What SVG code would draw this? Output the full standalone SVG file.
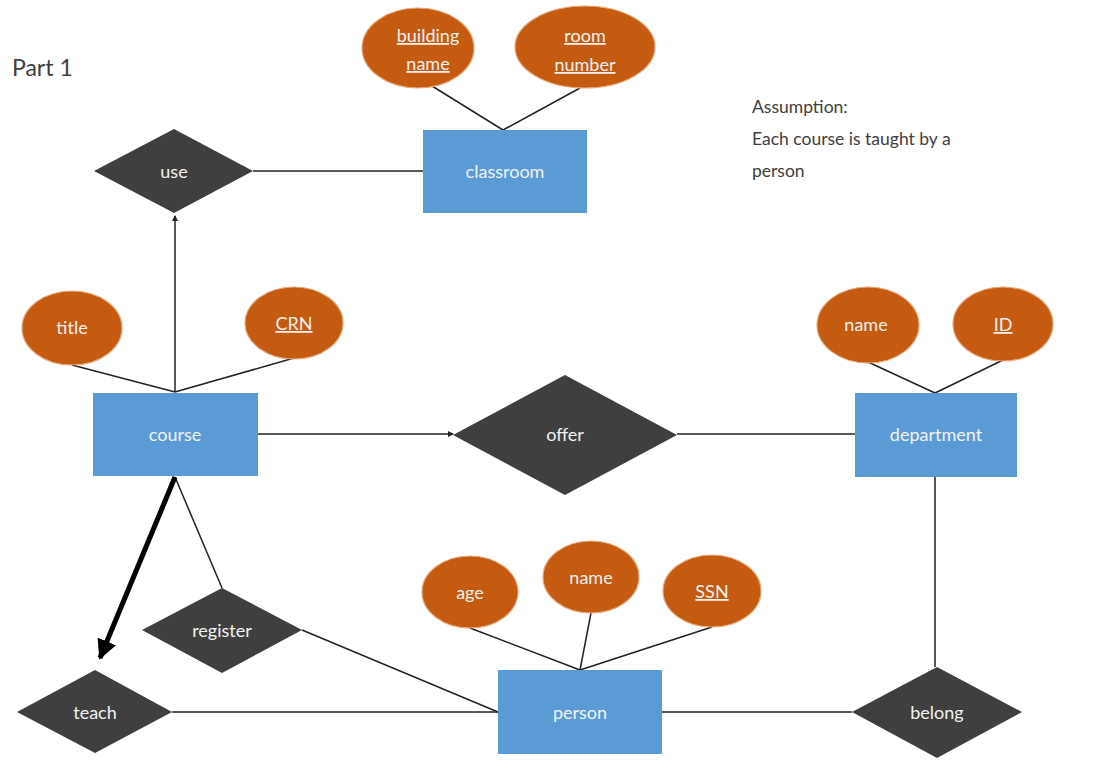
<svg xmlns="http://www.w3.org/2000/svg" width="1102" height="770" viewBox="0 0 1102 770">
<style>
.ent{fill:#5B9BD5;}
.attr{fill:#C55A11;stroke:#E9A77A;stroke-width:1.2;}
.rel{fill:#3F3F3F;}
.lbl{font-family:Lato,"Liberation Sans",sans-serif;font-size:18px;fill:#F2F2F2;text-anchor:middle;}
.key{text-decoration:underline;}
.plain{font-family:Lato,"Liberation Sans",sans-serif;fill:#404040;}
.ln{stroke:#222;stroke-width:1.5;fill:none;}
</style>
<defs>
<marker id="sm" viewBox="0 0 6 6" refX="5" refY="3" markerWidth="4" markerHeight="4" orient="auto" markerUnits="strokeWidth">
<path d="M0,0 L6,3 L0,6 z" fill="#222"/>
</marker>
<marker id="big" viewBox="0 0 10 10" refX="9" refY="5" markerWidth="4" markerHeight="4" orient="auto" markerUnits="strokeWidth">
<path d="M0,0 L10,5 L0,10 z" fill="#000"/>
</marker>
</defs>
<rect width="1102" height="770" fill="#fff"/>
<text class="plain" x="12" y="76" font-size="23">Part 1</text>
<g id="assumption" class="plain" font-size="17.5">
<text x="752" y="113">Assumption:</text>
<text x="752" y="145">Each course is taught by a</text>
<text x="752" y="177">person</text>
</g>
<g id="connectors">
<line class="ln" x1="432" y1="86" x2="503" y2="130"/>
<line class="ln" x1="580" y1="88" x2="503" y2="130"/>
<line class="ln" x1="253" y1="171" x2="423" y2="171"/>
<line class="ln" x1="175" y1="392" x2="175" y2="216" marker-end="url(#sm)"/>
<line class="ln" x1="72" y1="365" x2="175" y2="392"/>
<line class="ln" x1="294" y1="358" x2="175" y2="392"/>
<line class="ln" x1="258" y1="434" x2="453" y2="434" marker-end="url(#sm)"/>
<line class="ln" x1="677" y1="434" x2="855" y2="434"/>
<line class="ln" x1="868" y1="362" x2="935" y2="393"/>
<line class="ln" x1="1003" y1="360" x2="935" y2="393"/>
<line class="ln" x1="935" y1="477" x2="935" y2="667"/>
<line class="ln" x1="662" y1="712" x2="852" y2="712"/>
<line class="ln" x1="172" y1="712" x2="498" y2="712"/>
<line class="ln" x1="302" y1="630" x2="498" y2="712"/>
<line class="ln" x1="175" y1="477" x2="222" y2="588"/>
<line x1="175" y1="477" x2="100" y2="658" stroke="#000" stroke-width="5" marker-end="url(#big)"/>
<line class="ln" x1="470" y1="628" x2="580" y2="670"/>
<line class="ln" x1="591" y1="613" x2="580" y2="670"/>
<line class="ln" x1="712" y1="627" x2="580" y2="670"/>
</g>
<g id="building_name"><ellipse class="attr" cx="418" cy="48" rx="56" ry="40"/><text class="lbl key" x="428" y="42">building</text><text class="lbl key" x="428" y="70">name</text></g>
<g id="room_number"><ellipse class="attr" cx="585" cy="47" rx="70" ry="41"/><text class="lbl key" x="585" y="42">room</text><text class="lbl key" x="585" y="71">number</text></g>
<g id="classroom"><rect class="ent" x="423" y="130" width="164" height="83"/><text class="lbl" x="505" y="178">classroom</text></g>
<g id="use"><polygon class="rel" points="94,171 174,129 253,171 174,213"/><text class="lbl" x="174" y="178">use</text></g>
<g id="title"><ellipse class="attr" cx="72" cy="328" rx="50" ry="37"/><text class="lbl" x="72" y="334">title</text></g>
<g id="CRN"><ellipse class="attr" cx="294" cy="323" rx="49" ry="36"/><text class="lbl key" x="294" y="330">CRN</text></g>
<g id="course"><rect class="ent" x="93" y="393" width="165" height="83"/><text class="lbl" x="175" y="441">course</text></g>
<g id="offer"><polygon class="rel" points="453,435 565,375 677,435 565,495"/><text class="lbl" x="565" y="441">offer</text></g>
<g id="department"><rect class="ent" x="855" y="393" width="162" height="84"/><text class="lbl" x="936" y="441">department</text></g>
<g id="dept_name"><ellipse class="attr" cx="868" cy="325" rx="51" ry="38"/><text class="lbl" x="866" y="331">name</text></g>
<g id="ID"><ellipse class="attr" cx="1003" cy="324" rx="50" ry="37"/><text class="lbl key" x="1003" y="331">ID</text></g>
<g id="register"><polygon class="rel" points="142,630 222,588 302,630 222,673"/><text class="lbl" x="222" y="637">register</text></g>
<g id="teach"><polygon class="rel" points="17,712 95,670 172,712 95,753"/><text class="lbl" x="95" y="719">teach</text></g>
<g id="age"><ellipse class="attr" cx="470" cy="592" rx="48" ry="36"/><text class="lbl" x="470" y="599">age</text></g>
<g id="person_name"><ellipse class="attr" cx="591" cy="577" rx="48" ry="36"/><text class="lbl" x="591" y="584">name</text></g>
<g id="SSN"><ellipse class="attr" cx="712" cy="591" rx="49" ry="36"/><text class="lbl key" x="712" y="598">SSN</text></g>
<g id="person"><rect class="ent" x="498" y="670" width="164" height="84"/><text class="lbl" x="580" y="719">person</text></g>
<g id="belong"><polygon class="rel" points="852,712 937,667 1022,712 937,758"/><text class="lbl" x="937" y="719">belong</text></g>
</svg>
